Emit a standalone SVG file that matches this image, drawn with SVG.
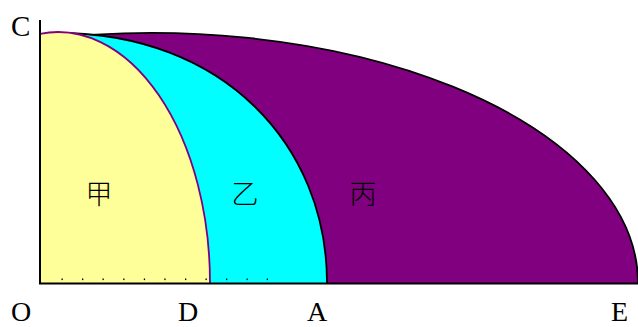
<svg xmlns="http://www.w3.org/2000/svg" width="638" height="327" viewBox="0 0 638 327">
<style>
.lbl{font-family:"Liberation Serif","DejaVu Serif",serif;font-size:29px;fill:#000}
.bot{font-size:28px}
.cjk{font-family:"Noto Sans CJK SC","Noto Sans CJK JP",sans-serif;font-size:27px;font-weight:300;fill:#000;text-anchor:middle}
.dot{fill:#000}
</style>
<rect width="638" height="327" fill="#fff"/>
<g id="region-bing">
<path d="M40,283 L40,39.7 A486,250 0 0,1 638,283 Z" fill="#800080"/>
<path d="M40,39.7 A486,250 0 0,1 638,283" fill="none" stroke="#000" stroke-width="1.8"/>
</g>
<g id="region-yi">
<path d="M58,33 C223,33 327,145 327,283 L58,283 Z" fill="#00ffff"/>
<path d="M58,33 C223,33 327,145 327,283" fill="none" stroke="#000" stroke-width="1.8"/>
</g>
<g id="region-jia">
<path d="M40,283 L40,33.8 A152,251 0 0,1 210,283 Z" fill="#ffff99"/>
<path d="M40,33.8 A152,251 0 0,1 210,283" fill="none" stroke="#800080" stroke-width="1.8"/>
</g>
<g id="axes">
<line x1="40" y1="20" x2="40" y2="284" stroke="#000" stroke-width="2"/>
<line x1="39" y1="283.5" x2="638" y2="283.5" stroke="#000" stroke-width="1.8"/>
</g>
<g id="dots">
<rect class="dot" x="61.5" y="278.5" width="1.3" height="1.6"/>
<rect class="dot" x="82" y="278.5" width="1.3" height="1.6"/>
<rect class="dot" x="102.5" y="278.5" width="1.3" height="1.6"/>
<rect class="dot" x="123.2" y="278.5" width="1.3" height="1.6"/>
<rect class="dot" x="143.8" y="278.5" width="1.3" height="1.6"/>
<rect class="dot" x="164.3" y="278.5" width="1.3" height="1.6"/>
<rect class="dot" x="185" y="278.5" width="1.3" height="1.6"/>
<rect class="dot" x="205.5" y="278.5" width="1.3" height="1.6"/>
<rect class="dot" x="226" y="278.5" width="1.3" height="1.6"/>
<rect class="dot" x="246.5" y="278.5" width="1.3" height="1.6"/>
<rect class="dot" x="266.7" y="278.5" width="1.3" height="1.6"/>
</g>
<g id="labels">
<text class="lbl" x="11" y="35.5">C</text>
<text class="lbl bot" x="11" y="321">O</text>
<text class="lbl bot" x="178" y="321">D</text>
<text class="lbl bot" x="307" y="321">A</text>
<text class="lbl bot" x="611" y="321">E</text>
<text class="cjk" x="99" y="204">甲</text>
<text class="cjk" x="245" y="204">乙</text>
<text class="cjk" x="363" y="204">丙</text>
</g>
</svg>
